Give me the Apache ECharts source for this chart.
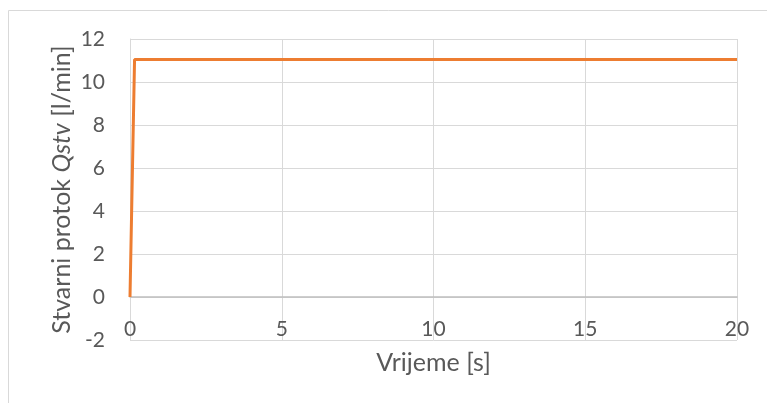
<!DOCTYPE html>
<html>
<head>
<meta charset="utf-8">
<script src="https://cdn.jsdelivr.net/npm/echarts@6/dist/echarts.min.js"></script>
<style>
  html, body { margin: 0; padding: 0; background: #fff; }
  #chart { width: 767px; height: 403px; }
</style>
</head>
<body>
<div id="chart"></div>
<script>
// time [s] and actual flow Qstv [l/min]
const time = [0, 0.15, 1, 5, 10, 15, 20];
const flow = [0, 11.05, 11.05, 11.05, 11.05, 11.05, 11.05];

const xTicks = [0, 5, 10, 15, 20];
const yTicks = [-2, 0, 2, 4, 6, 8, 10, 12];

const font = "Lato";
const textColor = "#595959";

const chart = echarts.init(document.getElementById("chart"));

const option = {
  animation: false,
  grid: { left: 130, right: 30, top: 39, bottom: 63, outerBoundsMode: "none" },
  graphic: [
    {
      type: "rect",
      shape: { x: 8.5, y: 10.5, width: 800, height: 420 },
      style: { fill: "none", stroke: "#d9d9d9", lineWidth: 1 },
      silent: true,
    },
  ],
  xAxis: {
    type: "value",
    min: xTicks[0],
    max: xTicks[xTicks.length - 1],
    interval: 5,
    name: "Vrijeme [s]",
    nameLocation: "middle",
    nameGap: 10,
    nameMoveOverlap: false,
    nameTextStyle: { fontFamily: font, fontSize: 25, color: textColor },
    axisLine: { onZero: true, lineStyle: { color: "#bfbfbf", width: 1.5 } },
    axisTick: { show: false },
    axisLabel: { fontFamily: font, fontSize: 21, color: textColor, margin: -21 },
    splitLine: { show: true, lineStyle: { color: "#d9d9d9", width: 1 } },
  },
  yAxis: {
    type: "value",
    min: yTicks[0],
    max: yTicks[yTicks.length - 1],
    interval: 2,
    name: "Stvarni protok {i|Qstv} [l/min]",
    nameLocation: "middle",
    nameGap: 56,
    nameMoveOverlap: false,
    nameTextStyle: {
      fontFamily: font,
      fontSize: 25,
      color: textColor,
      rich: {
        i: { fontFamily: font, fontSize: 25, color: textColor, fontStyle: "italic" },
      },
    },
    axisLine: { show: true, lineStyle: { color: "#d9d9d9", width: 1 } },
    axisTick: { show: false },
    axisLabel: { fontFamily: font, fontSize: 21, color: textColor, margin: 25 },
    splitLine: { show: true, lineStyle: { color: "#d9d9d9", width: 1 } },
  },
  series: [
    {
      type: "line",
      data: time.map((t, i) => [t, flow[i]]),
      showSymbol: false,
      lineStyle: { color: "#ed7d31", width: 3 },
      itemStyle: { color: "#ed7d31" },
    },
  ],
};

chart.setOption(option);
</script>
</body>
</html>
